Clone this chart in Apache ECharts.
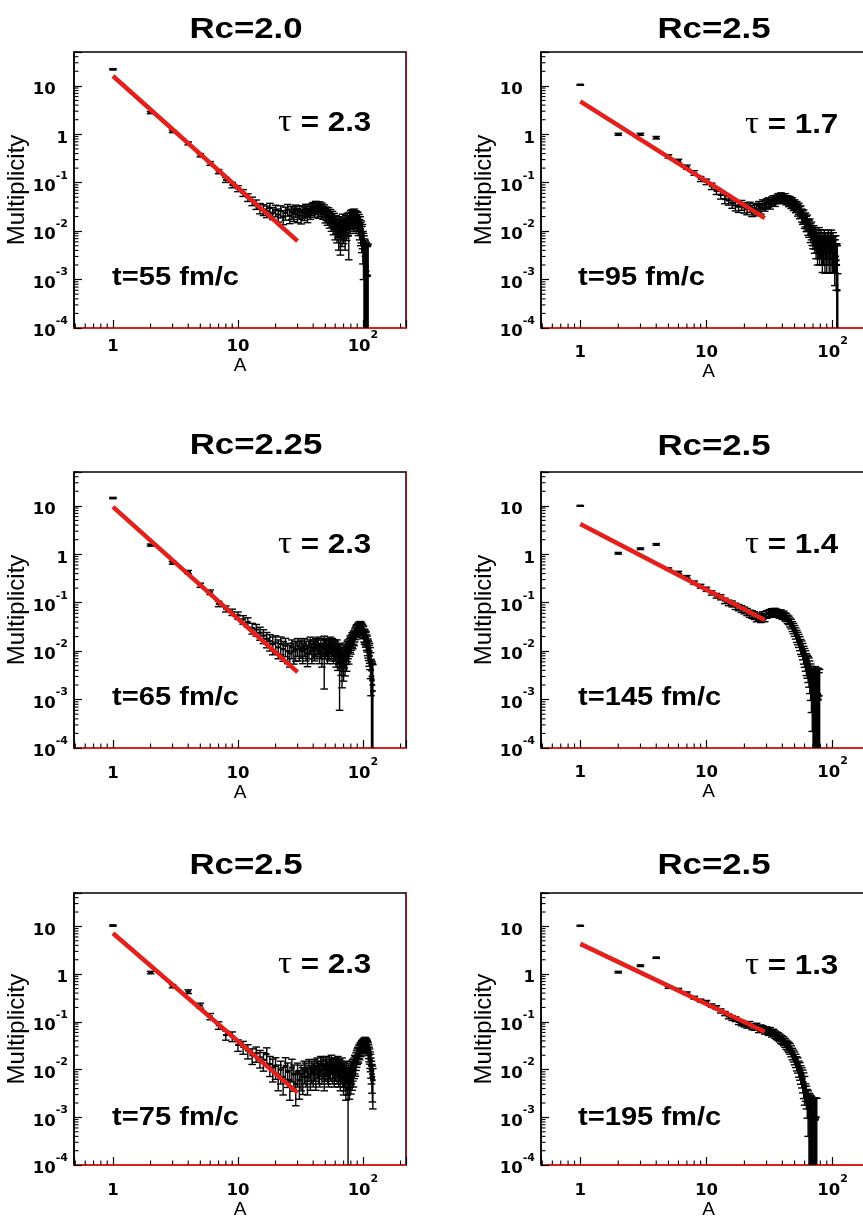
<!DOCTYPE html>
<html><head><meta charset="utf-8">
<script src="https://cdn.jsdelivr.net/npm/echarts@6/dist/echarts.min.js"></script>
<style>html,body{margin:0;padding:0;background:#fff;overflow:hidden;width:863px;height:1220px}
#c{width:880px;height:1220px}</style></head>
<body><div id="c"></div>
<script>
// ---------- text ----------
const titles = ['Rc=2.0', 'Rc=2.5', 'Rc=2.25', 'Rc=2.5', 'Rc=2.5', 'Rc=2.5'];
const tauLabels = ['2.3', '1.7', '2.3', '1.4', '2.3', '1.3'];
const timeLabels = ['t=55 fm/c', 't=95 fm/c', 't=65 fm/c', 't=145 fm/c', 't=75 fm/c', 't=195 fm/c'];
const yName = 'Multiplicity';
const xName = 'A';

// ---------- data: multiplicity for A = 1, 2, 3, ... and relative errors ----------
const p1Val = [22, 2.8, 1.15, 0.65, 0.37, 0.25, 0.17, 0.115, 0.09, 0.076,
  0.062, 0.05, 0.042, 0.036, 0.03, 0.028, 0.026, 0.03, 0.024, 0.027,
  0.022, 0.026, 0.02, 0.024, 0.028, 0.021, 0.025, 0.023, 0.027, 0.022,
  0.025, 0.021, 0.026, 0.024, 0.028, 0.022, 0.027, 0.025, 0.029, 0.031,
  0.027, 0.033, 0.03, 0.026, 0.032, 0.028, 0.03, 0.025, 0.027, 0.022,
  0.024, 0.02, 0.023, 0.018, 0.021, 0.016, 0.019, 0.014, 0.017, 0.012,
  0.015, 0.011, 0.013, 0.009, 0.014, 0.008, 0.012, 0.01, 0.016, 0.011,
  0.013, 0.009, 0.015, 0.012, 0.017, 0.014, 0.008, 0.018, 0.015, 0.02,
  0.017, 0.021, 0.019, 0.016, 0.022, 0.018, 0.02, 0.015, 0.019, 0.016,
  0.018, 0.014, 0.016, 0.012, 0.014, 0.01, 0.011, 0.008, 0.009, 0.006,
  0.005, 0.004, 0.003, 0.0025, 0.002, 0.0018, 0.0015, 0.0012, 0.0012, 0.0012];
const p1Err = [0.03, 0.05, 0.06, 0.07, 0.08, 0.09, 0.1, 0.12, 0.13, 0.14,
  0.16, 0.18, 0.2, 0.22, 0.24, 0.25, 0.27, 0.25, 0.28, 0.27,
  0.3, 0.28, 0.32, 0.3, 0.27, 0.32, 0.3, 0.31, 0.28, 0.32,
  0.3, 0.33, 0.29, 0.31, 0.28, 0.32, 0.29, 0.3, 0.27, 0.26,
  0.28, 0.25, 0.27, 0.29, 0.26, 0.28, 0.27, 0.3, 0.29, 0.33,
  0.31, 0.34, 0.32, 0.36, 0.33, 0.38, 0.35, 0.4, 0.37, 0.45,
  0.4, 0.48, 0.43, 0.55, 0.42, 0.6, 0.45, 0.52, 0.4, 0.5,
  0.45, 0.55, 0.4, 0.47, 0.38, 0.42, 0.68, 0.36, 0.4, 0.33,
  0.36, 0.32, 0.34, 0.38, 0.3, 0.35, 0.33, 0.4, 0.34, 0.38,
  0.36, 0.42, 0.38, 0.45, 0.42, 0.5, 0.48, 0.55, 0.52, 0.65,
  0.8, 1.0, 1.3, 1.6, 2.0, 2.2, 2.6, 3.0, 3.2, 3.5];

const p2Val = [10.5, 1.0, 1.0, 0.85, 0.35, 0.28, 0.21, 0.16, 0.12, 0.105,
  0.085, 0.068, 0.056, 0.046, 0.043, 0.038, 0.034, 0.032, 0.035, 0.031,
  0.029, 0.032, 0.027, 0.03, 0.028, 0.033, 0.03, 0.036, 0.034, 0.038,
  0.04, 0.037, 0.042, 0.045, 0.041, 0.046, 0.05, 0.047, 0.052, 0.049,
  0.046, 0.05, 0.044, 0.045, 0.041, 0.043, 0.038, 0.04, 0.035, 0.036,
  0.032, 0.033, 0.028, 0.03, 0.025, 0.026, 0.022, 0.02, 0.021, 0.017,
  0.018, 0.015, 0.016, 0.013, 0.012, 0.013, 0.01, 0.011, 0.009, 0.008,
  0.009, 0.007, 0.008, 0.006, 0.007, 0.005, 0.006, 0.008, 0.005, 0.006,
  0.007, 0.005, 0.004, 0.006, 0.005, 0.007, 0.004, 0.006, 0.005, 0.004,
  0.006, 0.005, 0.007, 0.004, 0.005, 0.006, 0.004, 0.007, 0.005, 0.004,
  0.006, 0.004, 0.005, 0.003, 0.004, 0.005, 0.003, 0.0025, 0.002, 0.0006];
const p2Err = [0.02, 0.05, 0.05, 0.06, 0.08, 0.09, 0.1, 0.11, 0.12, 0.13,
  0.15, 0.16, 0.18, 0.2, 0.2, 0.22, 0.23, 0.24, 0.23, 0.24,
  0.25, 0.24, 0.26, 0.25, 0.26, 0.24, 0.25, 0.23, 0.24, 0.22,
  0.22, 0.23, 0.21, 0.2, 0.21, 0.2, 0.19, 0.2, 0.19, 0.2,
  0.2, 0.19, 0.21, 0.2, 0.22, 0.21, 0.23, 0.22, 0.24, 0.23,
  0.25, 0.24, 0.27, 0.26, 0.28, 0.28, 0.3, 0.31, 0.3, 0.33,
  0.32, 0.35, 0.34, 0.37, 0.38, 0.37, 0.42, 0.4, 0.44, 0.46,
  0.44, 0.5, 0.47, 0.55, 0.5, 0.6, 0.55, 0.48, 0.6, 0.55,
  0.52, 0.6, 0.65, 0.55, 0.6, 0.5, 0.66, 0.55, 0.6, 0.66,
  0.55, 0.6, 0.5, 0.66, 0.6, 0.55, 0.66, 0.5, 0.6, 0.66,
  0.55, 0.66, 0.6, 0.75, 0.66, 0.6, 0.8, 1.2, 1.5, 1.2];

const p3Val = [14.5, 1.55, 0.67, 0.43, 0.23, 0.165, 0.095, 0.075, 0.064, 0.055,
  0.045, 0.04, 0.03, 0.028, 0.024, 0.021, 0.018, 0.016, 0.014, 0.015,
  0.012, 0.014, 0.011, 0.013, 0.01, 0.009, 0.012, 0.01, 0.011, 0.013,
  0.011, 0.012, 0.01, 0.013, 0.011, 0.009, 0.012, 0.014, 0.01, 0.012,
  0.011, 0.013, 0.012, 0.014, 0.01, 0.012, 0.009, 0.013, 0.011, 0.012,
  0.013, 0.01, 0.012, 0.011, 0.014, 0.012, 0.013, 0.01, 0.012, 0.011,
  0.009, 0.012, 0.008, 0.01, 0.006, 0.009, 0.007, 0.005, 0.008, 0.006,
  0.009, 0.007, 0.01, 0.008, 0.011, 0.012, 0.01, 0.013, 0.015, 0.014,
  0.016, 0.018, 0.017, 0.02, 0.019, 0.022, 0.024, 0.026, 0.028, 0.027,
  0.03, 0.029, 0.032, 0.031, 0.033, 0.03, 0.032, 0.029, 0.028, 0.025,
  0.026, 0.022, 0.02, 0.021, 0.018, 0.019, 0.016, 0.015, 0.013, 0.012,
  0.011, 0.009, 0.01, 0.008, 0.006, 0.004, 0.003, 0.0025, 0.002, 0.0015];
const p3Err = [0.03, 0.05, 0.07, 0.08, 0.1, 0.11, 0.13, 0.14, 0.15, 0.17,
  0.2, 0.22, 0.25, 0.27, 0.3, 0.32, 0.35, 0.37, 0.4, 0.38,
  0.42, 0.4, 0.44, 0.41, 0.45, 0.48, 0.42, 0.46, 0.44, 0.4,
  0.43, 0.41, 0.45, 0.4, 0.43, 0.47, 0.42, 0.39, 0.45, 0.42,
  0.43, 0.4, 0.41, 0.39, 0.45, 0.42, 0.48, 0.4, 0.85, 0.42,
  0.4, 0.45, 0.42, 0.43, 0.39, 0.42, 0.4, 0.45, 0.42, 0.44,
  0.48, 0.42, 0.5, 0.46, 0.9, 0.5, 0.55, 0.65, 0.52, 0.6,
  0.5, 0.56, 0.47, 0.52, 0.45, 0.42, 0.46, 0.4, 0.37, 0.38,
  0.35, 0.33, 0.34, 0.31, 0.32, 0.3, 0.28, 0.27, 0.26, 0.27,
  0.25, 0.26, 0.24, 0.25, 0.24, 0.25, 0.24, 0.26, 0.26, 0.28,
  0.27, 0.3, 0.31, 0.3, 0.33, 0.32, 0.35, 0.36, 0.38, 0.4,
  0.42, 0.46, 0.44, 0.48, 0.55, 0.7, 1.1, 1.4, 1.8, 2.5];

const p4Val = [10, 1.05, 1.3, 1.6, 0.5, 0.42, 0.34, 0.26, 0.22, 0.19,
  0.16, 0.14, 0.13, 0.11, 0.1, 0.095, 0.085, 0.08, 0.075, 0.07,
  0.065, 0.06, 0.058, 0.055, 0.05, 0.052, 0.048, 0.055, 0.05, 0.058,
  0.06, 0.062, 0.065, 0.06, 0.066, 0.063, 0.06, 0.058, 0.061, 0.055,
  0.057, 0.052, 0.05, 0.046, 0.044, 0.04, 0.037, 0.033, 0.03, 0.027,
  0.024, 0.021, 0.019, 0.017, 0.015, 0.013, 0.012, 0.0105, 0.009, 0.008,
  0.007, 0.006, 0.0055, 0.005, 0.0045, 0.0038, 0.0032, 0.0027, 0.0022, 0.0018,
  0.0016, 0.0014, 0.0015, 0.0012, 0.0014, 0.0011, 0.0013, 0.001, 0.0012];
const p4Err = [0.02, 0.04, 0.04, 0.04, 0.05, 0.06, 0.07, 0.08, 0.09, 0.1,
  0.1, 0.11, 0.12, 0.13, 0.13, 0.14, 0.15, 0.15, 0.16, 0.16,
  0.17, 0.17, 0.18, 0.18, 0.19, 0.18, 0.19, 0.18, 0.19, 0.18,
  0.17, 0.17, 0.16, 0.17, 0.16, 0.17, 0.17, 0.18, 0.17, 0.18,
  0.18, 0.19, 0.19, 0.2, 0.2, 0.21, 0.22, 0.23, 0.24, 0.25,
  0.26, 0.28, 0.29, 0.3, 0.32, 0.34, 0.35, 0.37, 0.4, 0.42,
  0.45, 0.48, 0.5, 0.55, 0.6, 0.65, 0.7, 0.8, 0.9, 1.0,
  1.8, 2.0, 2.2, 2.5, 2.2, 2.8, 2.4, 2.6, 2.5];

const p5Val = [10.4, 1.08, 0.56, 0.43, 0.22, 0.13, 0.085, 0.053, 0.05, 0.033,
  0.03, 0.025, 0.02, 0.022, 0.018, 0.016, 0.021, 0.013, 0.011, 0.012,
  0.008, 0.01, 0.007, 0.012, 0.009, 0.006, 0.011, 0.008, 0.005, 0.009,
  0.006, 0.008, 0.007, 0.01, 0.009, 0.007, 0.011, 0.008, 0.01, 0.009,
  0.011, 0.008, 0.012, 0.01, 0.009, 0.013, 0.01, 0.012, 0.008, 0.011,
  0.013, 0.01, 0.009, 0.012, 0.011, 0.014, 0.01, 0.012, 0.009, 0.011,
  0.012, 0.01, 0.013, 0.009, 0.011, 0.008, 0.01, 0.012, 0.009, 0.007,
  0.009, 0.008, 0.006, 0.01, 0.007, 0.004, 0.008, 0.006, 0.009, 0.007,
  0.01, 0.008, 0.011, 0.009, 0.012, 0.014, 0.013, 0.016, 0.018, 0.02,
  0.022, 0.021, 0.025, 0.024, 0.028, 0.027, 0.03, 0.032, 0.031, 0.034,
  0.033, 0.036, 0.035, 0.038, 0.036, 0.034, 0.035, 0.032, 0.03, 0.028,
  0.025, 0.022, 0.02, 0.017, 0.015, 0.012, 0.01, 0.008, 0.007, 0.006];
const p5Err = [0.03, 0.06, 0.08, 0.09, 0.12, 0.15, 0.18, 0.22, 0.23, 0.27,
  0.3, 0.33, 0.36, 0.35, 0.4, 0.42, 0.36, 0.45, 0.5, 0.48,
  0.55, 0.5, 0.58, 0.48, 0.53, 0.62, 0.5, 0.56, 0.65, 0.52,
  0.6, 0.55, 0.57, 0.5, 0.52, 0.58, 0.48, 0.54, 0.5, 0.52,
  0.48, 0.54, 0.46, 0.5, 0.52, 0.45, 0.5, 0.47, 0.55, 0.48,
  0.45, 0.5, 0.52, 0.47, 0.48, 0.43, 0.5, 0.46, 0.52, 0.48,
  0.46, 0.5, 0.45, 0.52, 0.48, 0.55, 0.5, 0.46, 0.52, 0.58,
  0.52, 0.55, 0.62, 0.5, 0.58, 1.2, 0.53, 0.6, 0.52, 0.56,
  0.5, 0.54, 0.48, 0.52, 0.46, 0.42, 0.44, 0.4, 0.38, 0.36,
  0.34, 0.35, 0.32, 0.33, 0.3, 0.31, 0.29, 0.28, 0.29, 0.27,
  0.27, 0.26, 0.26, 0.25, 0.26, 0.27, 0.26, 0.28, 0.29, 0.3,
  0.32, 0.34, 0.35, 0.38, 0.4, 0.45, 0.5, 0.6, 0.7, 0.75];

const p6Val = [10.3, 1.1, 1.5, 2.2, 0.53, 0.48, 0.4, 0.32, 0.28, 0.26,
  0.22, 0.2, 0.17, 0.15, 0.13, 0.12, 0.115, 0.1, 0.095, 0.09,
  0.085, 0.09, 0.08, 0.078, 0.082, 0.07, 0.075, 0.072, 0.066, 0.068,
  0.062, 0.065, 0.058, 0.06, 0.055, 0.052, 0.05, 0.047, 0.044, 0.042,
  0.04, 0.037, 0.034, 0.032, 0.03, 0.028, 0.025, 0.022, 0.02, 0.018,
  0.016, 0.014, 0.013, 0.011, 0.01, 0.0085, 0.0075, 0.0065, 0.0055, 0.0045,
  0.0036, 0.003, 0.0024, 0.002, 0.0016, 0.0014, 0.0012, 0.0011, 0.001, 0.0009,
  0.001, 0.0009, 0.001, 0.0009, 0.001];
const p6Err = [0.02, 0.04, 0.04, 0.03, 0.05, 0.05, 0.06, 0.07, 0.07, 0.08,
  0.08, 0.09, 0.1, 0.1, 0.11, 0.11, 0.12, 0.12, 0.13, 0.13,
  0.13, 0.13, 0.14, 0.14, 0.14, 0.15, 0.15, 0.15, 0.16, 0.16,
  0.16, 0.17, 0.17, 0.17, 0.18, 0.18, 0.19, 0.19, 0.2, 0.2,
  0.21, 0.21, 0.22, 0.23, 0.24, 0.25, 0.26, 0.27, 0.28, 0.3,
  0.31, 0.33, 0.35, 0.37, 0.4, 0.42, 0.45, 0.5, 0.55, 0.6,
  0.4, 0.5, 0.6, 0.8, 1.0, 1.2, 1.4, 1.5, 1.6, 1.8,
  1.5, 1.8, 1.5, 1.8, 1.5];

// power-law fit lines: [A, multiplicity] end points
const fit1 = [[1, 16], [30, 0.0062]];
const fit2 = [[1, 4.8], [29, 0.0185]];
const fit3 = [[1, 9.5], [30, 0.0037]];
const fit4 = [[1, 4.2], [29, 0.044]];
const fit5 = [[1, 7.2], [30, 0.0033]];
const fit6 = [[1, 4.3], [29, 0.062]];

const values = [p1Val, p2Val, p3Val, p4Val, p5Val, p6Val];
const errors = [p1Err, p2Err, p3Err, p4Err, p5Err, p6Err];
const fits = [fit1, fit2, fit3, fit4, fit5, fit6];

// ---------- layout ----------
const grids = [
  {left: 74, top: 52, width: 332, height: 276},
  {left: 541, top: 52, width: 335, height: 276},
  {left: 74, top: 472, width: 332, height: 276},
  {left: 541, top: 472, width: 335, height: 276},
  {left: 74, top: 893, width: 332, height: 275},
  {left: 541, top: 893, width: 335, height: 275}
];
const X_MIN = 0.488, X_MAX = 221, Y_MIN = 1e-4, Y_MAX = 50;
const xLabelMargin = [2, 8, 9, 8, 9, 9];
const xNameGap = [20, 24, 32, 24, 32, 32];
const titlePos = [[246, 30], [714, 30], [256, 446], [714, 447], [246, 866], [714, 866]];
const tauPos = [[278, 123], [745, 125], [278, 545], [745, 545], [278, 965], [745, 966]];
const timePos = [[112, 278], [578, 278], [112, 698], [578, 698], [112, 1118], [578, 1118]];

const chart = echarts.init(document.getElementById('c'), null, {renderer: 'canvas'});

function isPow10(v) { const l = Math.log10(v); return Math.abs(l - Math.round(l)) < 1e-6; }
const labelRich = {
  b: {fontFamily: 'DejaVu Sans', fontWeight: 'bold', fontSize: 16.5, color: '#000', lineHeight: 25, verticalAlign: 'bottom'},
  s: {fontFamily: 'DejaVu Sans', fontWeight: 'bold', fontSize: 11, color: '#000', lineHeight: 11, verticalAlign: 'top'},
  h: {fontFamily: 'DejaVu Sans', fontWeight: 'bold', fontSize: 11, color: 'rgba(0,0,0,0)', lineHeight: 11, verticalAlign: 'top'}
};
function yLabel(v) {
  if (!isPow10(v)) return '';
  const e = Math.round(Math.log10(v));
  if (e === 0) return '{b|1}';
  if (e === 1) return '{b|10}{h|-1}';
  return '{b|10}{s|' + e + '}';
}
function xLabel(v) {
  if (!isPow10(v)) return '';
  const e = Math.round(Math.log10(v));
  if (e === 0) return '{b|1}';
  if (e === 1) return '{b|10}';
  return '{b|10}{s|' + e + '}';
}

// minor tick positions (axis decoration)
const minorTicks = [];
for (let e = -4; e <= 1; e++) for (let m = 2; m <= 9; m++) {
  const v = m * Math.pow(10, e);
  if (v <= Y_MAX * 1.0001) minorTicks.push([X_MIN, v, 0]);
}
for (let e = -1; e <= 2; e++) for (let m = 2; m <= 9; m++) {
  const v = m * Math.pow(10, e);
  if (v >= 0.5 && v <= X_MAX) minorTicks.push([v, Y_MIN, 1]);
}

const xAxes = [], yAxes = [], series = [], graphic = [];
grids.forEach((g, i) => {
  xAxes.push({
    type: 'log', logBase: 10, gridIndex: i, min: X_MIN, max: X_MAX,
    name: xName, nameLocation: 'middle', nameGap: xNameGap[i],
    nameTextStyle: {fontFamily: 'Liberation Sans', fontSize: 19, color: '#000'},
    axisLine: {show: true, lineStyle: {color: '#d8231f', width: 2}},
    axisTick: {show: true, inside: true, length: 8, lineStyle: {color: '#000', width: 1.2}},
    axisLabel: {margin: xLabelMargin[i], formatter: xLabel, rich: labelRich},
    splitLine: {show: false}, minorTick: {show: false}
  });
  yAxes.push({
    type: 'log', logBase: 10, gridIndex: i, min: Y_MIN, max: Y_MAX,
    name: yName, nameLocation: 'middle', nameGap: 40,
    nameTextStyle: {fontFamily: 'Liberation Sans', fontSize: 24, color: '#000'},
    axisLine: {show: true, lineStyle: {color: '#000', width: 1.5}},
    axisTick: {show: true, inside: true, length: 8, lineStyle: {color: '#000', width: 1.2}},
    axisLabel: {margin: 6, formatter: yLabel, rich: labelRich},
    splitLine: {show: false}
  });
});
grids.forEach((g, i) => {
  yAxes.push({
    type: 'log', logBase: 10, gridIndex: i, min: Y_MIN, max: Y_MAX, position: 'right',
    axisLine: {show: true, lineStyle: {color: '#b01010', width: 1}},
    axisTick: {show: false}, axisLabel: {show: false}, splitLine: {show: false}
  });
});

grids.forEach((g, i) => {
  const data = values[i].map((v, k) => {
    const e = errors[i][k];
    return [k + 1, v, Math.max(v * (1 - e), Y_MIN), v * (1 + e)];
  });
  series.push({
    type: 'custom', xAxisIndex: i, yAxisIndex: i, z: 3, silent: true,
    data: data,
    renderItem: function (params, api) {
      const x = api.value(0), v = api.value(1), lo = api.value(2), hi = api.value(3);
      const pv = api.coord([x, v]);
      const ph = api.coord([x, hi]);
      const pl = api.coord([x, lo]);
      const st = {stroke: '#000', lineWidth: 1.4};
      const ch = [
        {type: 'line', shape: {x1: pv[0], y1: ph[1], x2: pv[0], y2: pl[1]}, style: st},
        {type: 'line', shape: {x1: pv[0] - 3.8, y1: ph[1], x2: pv[0] + 3.8, y2: ph[1]}, style: st},
        {type: 'line', shape: {x1: pv[0] - 2.8, y1: pv[1], x2: pv[0] + 2.8, y2: pv[1]}, style: {stroke: '#000', lineWidth: 2.2}}
      ];
      if (lo > Y_MIN * 1.01) ch.push({type: 'line', shape: {x1: pv[0] - 3.8, y1: pl[1], x2: pv[0] + 3.8, y2: pl[1]}, style: st});
      return {type: 'group', children: ch};
    }
  });
  series.push({
    type: 'line', xAxisIndex: i, yAxisIndex: i, z: 5, silent: true,
    data: fits[i], showSymbol: false, symbol: 'none',
    lineStyle: {color: '#e3201b', width: 4.5, cap: 'butt'}
  });
  series.push({
    type: 'custom', xAxisIndex: i, yAxisIndex: i, z: 4, silent: true,
    data: minorTicks,
    renderItem: function (params, api) {
      const p = api.coord([api.value(0), api.value(1)]);
      const st = {stroke: '#000', lineWidth: 1.1};
      if (api.value(2) === 0) return {type: 'line', shape: {x1: p[0], y1: p[1], x2: p[0] + 4.5, y2: p[1]}, style: st};
      return {type: 'line', shape: {x1: p[0], y1: p[1], x2: p[0], y2: p[1] - 4.5}, style: st};
    }
  });
  graphic.push({
    type: 'text', x: titlePos[i][0], y: titlePos[i][1], scaleX: 1.2,
    style: {text: titles[i], fill: '#000', font: 'bold 29px "Liberation Sans"', textAlign: 'center', textVerticalAlign: 'middle'}
  });
  graphic.push({
    type: 'text', x: tauPos[i][0], y: tauPos[i][1], scaleX: 1.12,
    style: {
      text: '{t|τ}{b| = ' + tauLabels[i] + '}', textAlign: 'left', textVerticalAlign: 'middle',
      rich: {
        t: {fontFamily: 'Liberation Serif', fontSize: 31, fill: '#000', color: '#000'},
        b: {fontFamily: 'Liberation Sans', fontWeight: 'bold', fontSize: 28, fill: '#000', color: '#000'}
      }
    }
  });
  graphic.push({
    type: 'text', x: timePos[i][0], y: timePos[i][1], scaleX: 1.12,
    style: {text: timeLabels[i], fill: '#000', font: 'bold 26px "Liberation Sans"', textAlign: 'left', textVerticalAlign: 'middle'}
  });
});

chart.setOption({
  animation: false,
  backgroundColor: '#fff',
  grid: grids.map(g => Object.assign({show: true, borderColor: '#000', borderWidth: 1.5, backgroundColor: 'transparent', containLabel: false}, g)),
  xAxis: xAxes,
  yAxis: yAxes,
  series: series,
  graphic: graphic
});
</script></body></html>
